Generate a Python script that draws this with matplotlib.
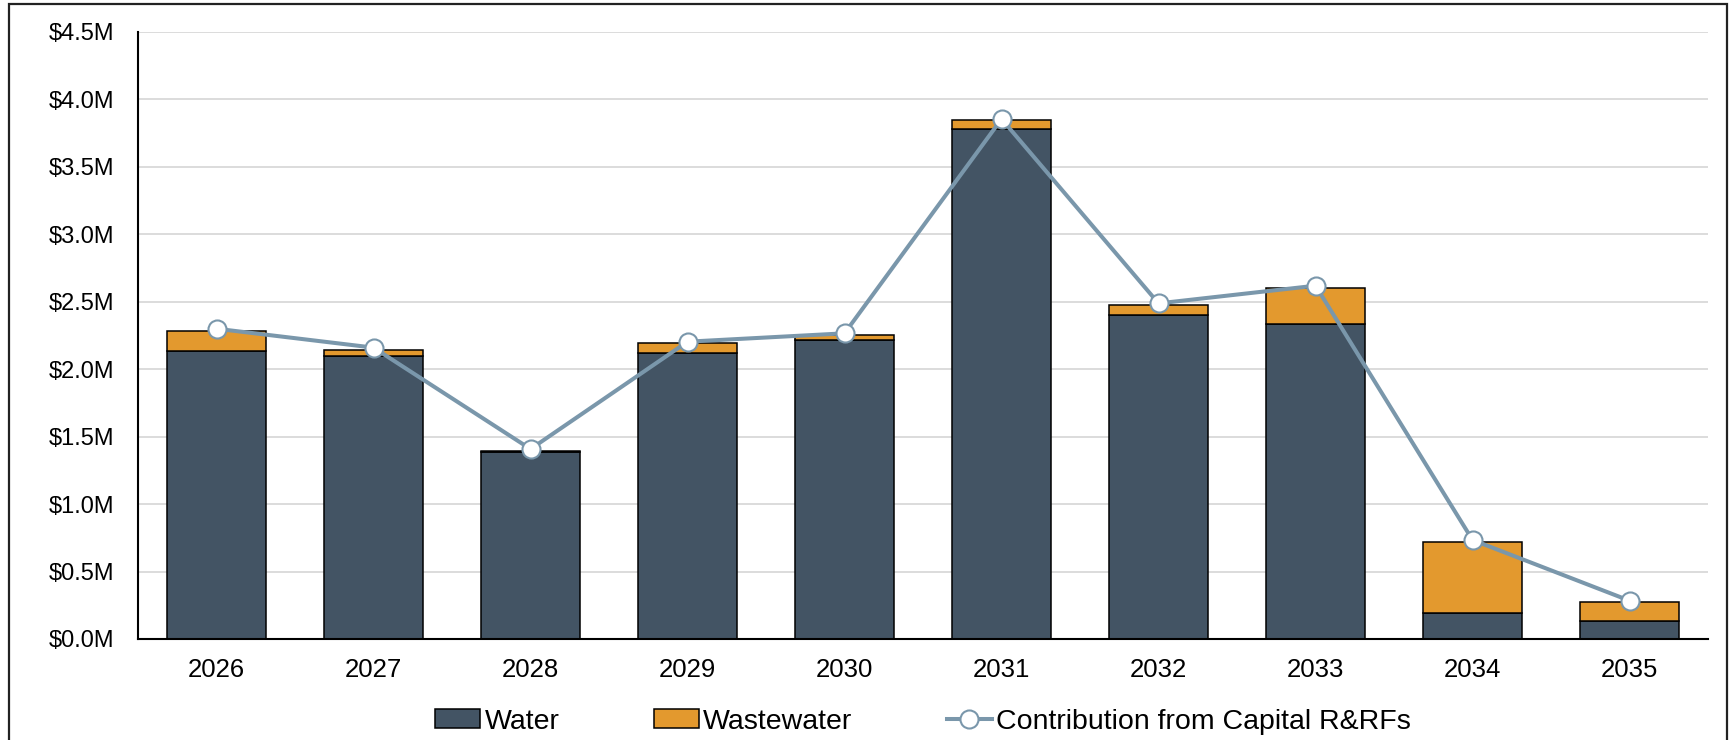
import numpy as np
import matplotlib.pyplot as plt
from matplotlib.patches import Rectangle

plt.rcParams['font.family'] = ['Liberation Sans', 'DejaVu Sans']

# values, in $M
years = ['2026', '2027', '2028', '2029', '2030', '2031', '2032', '2033', '2034', '2035']
water = [2.135, 2.098, 1.385, 2.122, 2.216, 3.783, 2.404, 2.335, 0.190, 0.131]
wastewater = [0.150, 0.047, 0.011, 0.072, 0.038, 0.062, 0.070, 0.269, 0.527, 0.141]
capital_rrf = [2.300, 2.160, 1.408, 2.204, 2.266, 3.855, 2.488, 2.619, 0.734, 0.284]
y_ticks = [0.0, 0.5, 1.0, 1.5, 2.0, 2.5, 3.0, 3.5, 4.0, 4.5]

water_color = '#435464'
ww_color = '#E3992E'
line_color = '#7A97AB'

fig = plt.figure(figsize=(17.3, 7.4), dpi=100)
ax = fig.add_axes([0.0798, 0.1365, 0.9075, 0.8203])

x = np.arange(len(years))
b1 = ax.bar(x, water, width=0.626, color=water_color, edgecolor='black', linewidth=1.1,
            label='Water', zorder=2)
b2 = ax.bar(x, wastewater, width=0.626, bottom=water, color=ww_color, edgecolor='black',
            linewidth=1.1, label='Wastewater', zorder=2)
ln, = ax.plot(x, capital_rrf, color=line_color, linewidth=2.9, marker='o', markersize=13,
              markerfacecolor='white', markeredgecolor=line_color, markeredgewidth=1.5,
              label='Contribution from Capital R&RFs', zorder=3)

ax.set_xlim(-0.5, len(years) - 0.5)
ax.set_ylim(0, 4.5)
ax.set_yticks(y_ticks)
ax.set_yticklabels([f'${v:.1f}M' for v in y_ticks])
ax.set_xticks(x)
ax.set_xticklabels(years)
ax.tick_params(axis='y', length=0, pad=17, labelsize=17)
ax.tick_params(axis='x', length=0, pad=14, labelsize=18.5)
ax.grid(axis='y', color='#D9D9D9', linewidth=1.3, zorder=0)
ax.set_axisbelow(True)
for side in ['top', 'right']:
    ax.spines[side].set_visible(False)
ax.spines['left'].set_linewidth(1.5)
ax.spines['bottom'].set_linewidth(1.5)

ax.legend(handles=[b1, b2, ln], loc='center', bbox_to_anchor=(0.5, -0.136), ncol=3,
          frameon=False, fontsize=20.5, handlelength=1.6, handleheight=0.6,
          handletextpad=0.15, columnspacing=3.3)

# outer frame around the chart
fig.patches.append(Rectangle((9 / 1730, -0.01), 1718 / 1730, 1.01 - 4 / 740,
                             transform=fig.transFigure, fill=False,
                             edgecolor='#222222', linewidth=1.6))

fig.savefig('out.png', dpi=100)
